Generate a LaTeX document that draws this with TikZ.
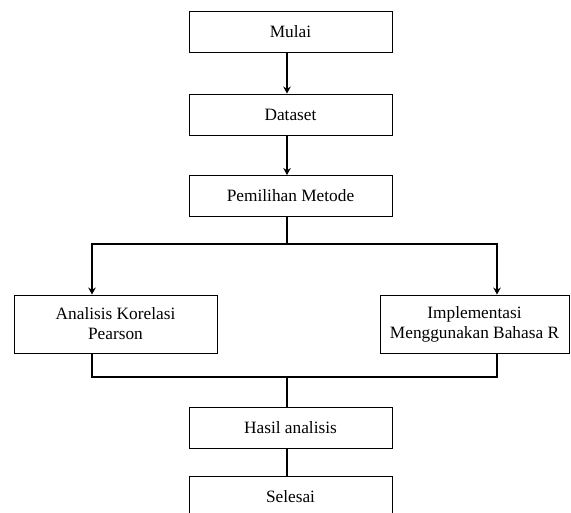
\documentclass[tikz,border=0pt]{standalone}
\usepackage{fontspec}
\setmainfont{Liberation Serif}
\usetikzlibrary{arrows.meta,positioning}

\tikzset{
  kotak/.style={draw, line width=0.9pt, minimum width=203pt, minimum height=41pt,
    inner sep=0pt, align=center, font=\fontsize{17.3}{20}\selectfont},
  alur/.style={line width=1.8pt},
}

\begin{document}
\begin{tikzpicture}[>={Stealth[length=7pt,width=7.5pt]}, x=1pt, y=-1pt]

	\useasboundingbox (0,0) rectangle (571,513);
	\clip (0,0) rectangle (571,513);

	% jalur utama dan cabang
	\coordinate (jalur) at (287,0);
	\coordinate (cabang) at (287,244);
	\coordinate (kiri)  at (92,244);
	\coordinate (kanan) at (497,244);
	\coordinate (gabung) at (287,377);

	\node[kotak] (mulai)     at (290.5, 31.5) {Mulai};
	\node[kotak] (dataset)   at (290.5,114.5) {Dataset};
	\node[kotak] (pemilihan) at (290.5,196.0) {Pemilihan Metode};

	\node[kotak, minimum height=58pt] (analisis) at (115.5,324)
		{Analisis Korelasi\\Pearson};
	\node[kotak, minimum height=58pt, minimum width=189pt] (implementasi) at (474.5,324)
		{Implementasi\\Menggunakan Bahasa R};

	\node[kotak] (hasil)   at (290.5,427.5) {Hasil analisis};
	\node[kotak] (selesai) at (290.5,496.5) {Selesai};

	\draw[alur,->] (mulai.south -| jalur) -- (dataset.north -| jalur);
	\draw[alur,->] (dataset.south -| jalur) -- (pemilihan.north -| jalur);

	\draw[alur] (pemilihan.south -| jalur) -- (cabang);
	\draw[alur,->] (cabang) -| (analisis.north -| kiri);
	\draw[alur,->] (cabang) -| (implementasi.north -| kanan);

	\draw[alur] (analisis.south -| kiri) |- (gabung);
	\draw[alur] (implementasi.south -| kanan) |- (gabung);

	\draw[alur] (gabung) -- (hasil.north -| jalur);
	\draw[alur] (hasil.south -| jalur) -- (selesai.north -| jalur);

\end{tikzpicture}
\end{document}
